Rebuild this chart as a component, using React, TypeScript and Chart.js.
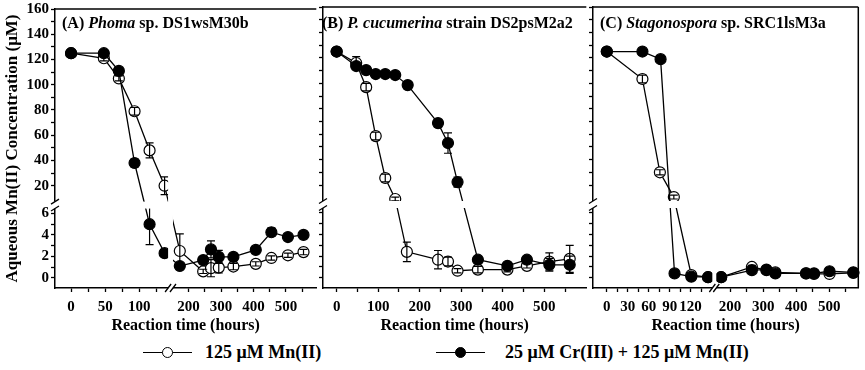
import React, { useEffect, useRef } from "react";
import { Chart, registerables } from "chart.js";

Chart.register(...registerables);

const FONT = '"Liberation Serif", "Times New Roman", serif';

// ---------- Panel A: Phoma sp. DS1wsM30b ----------
const timesA_Mn = [0, 48, 70, 93, 115, 137, 173, 245, 269, 293, 338, 407, 455, 506, 554];
const valuesA_Mn = [125, 121, 105, 79, 48, 20, 2.5, 0.6, 0.9, 0.95, 1.05, 1.3, 1.85, 2.1, 2.4];
const errorsA_Mn = [0, 2, 2, 3, 6, 7, 1.6, 0.2, 0.8, 0.5, 0.3, 0.2, 0.2, 0.2, 0.25];
const timesA_CrMn = [0, 48, 70, 93, 115, 137, 173, 245, 269, 293, 338, 407, 455, 506, 554];
const valuesA_CrMn = [125, 125, 111, 38, 5.0, 2.3, 1.1, 1.65, 2.65, 1.95, 1.95, 2.6, 4.25, 3.8, 4.0];
const errorsA_CrMn = [0, 0, 2, 3, 1.9, 0.2, 0.2, 0.3, 0.8, 0.6, 0.3, 0.2, 0.4, 0.2, 0.2];

// ---------- Panel B: P. cucumerina strain DS2psM2a2 ----------
const timesB_Mn = [0, 47, 71, 94, 117, 141, 169, 244, 268, 291, 340, 411, 458, 512, 561];
const valuesB_Mn = [125, 116, 97, 58.5, 25.5, 9, 2.4, 1.67, 1.5, 0.65, 0.75, 0.75, 1.1, 1.5, 1.75];
const errorsB_Mn = [0, 5, 3, 3, 3, 1.5, 0.9, 0.85, 0.4, 0.2, 0.3, 0.2, 0.2, 0.8, 1.25];
const timesB_CrMn = [0, 47, 71, 94, 117, 141, 171, 244, 268, 291, 340, 411, 458, 512, 561];
const valuesB_CrMn = [125, 113.6, 110.4, 107.3, 107.3, 106.5, 98.6, 68.7, 53, 22.3, 1.67, 1.1, 1.67, 1.2, 1.2];
const errorsB_CrMn = [0, 2, 0, 0, 0, 0, 2, 3, 8, 4, 0.2, 0.2, 0.2, 0.6, 0.8];

// ---------- Panel C: Stagonospora sp. SRC1lsM3a ----------
const timesC_Mn = [0, 51, 76, 96, 121, 145, 173, 266, 310, 337, 430, 454, 501, 573];
const valuesC_Mn = [125, 103.4, 30, 10.5, 0.25, 0.05, 0.05, 1.0, 0.7, 0.5, 0.4, 0.35, 0.35, 0.45];
const errorsC_Mn = [0, 3, 2, 1.5, 0, 0, 0, 0.15, 0.1, 0.1, 0.1, 0.1, 0.1, 0.1];
const timesC_CrMn = [0, 51, 77, 97, 121, 145, 173, 266, 310, 337, 430, 454, 501, 573];
const valuesC_CrMn = [125, 125, 119, 0.4, 0.1, 0.05, 0.05, 0.7, 0.75, 0.4, 0.4, 0.4, 0.6, 0.5];
const errorsC_CrMn = [0, 0, 0, 0, 0, 0, 0, 0, 0, 0, 0, 0, 0, 0];

// ---------- Axis ticks ----------
const yTicks = [0, 1, 2, 3, 4, 5, 6, 20, 30, 40, 50, 60, 70, 80, 90, 100, 110, 120, 130, 140, 150, 160];
const yTickLabels = ["0", "", "2", "", "4", "", "6", "20", "", "40", "", "60", "", "80", "", "100", "", "120", "", "140", "", "160"];

const xTicksA = [0, 25, 50, 75, 100, 125, 200, 250, 300, 350, 400, 450, 500, 550];
const xLabelsA = ["0", "", "50", "", "100", "", "200", "", "300", "", "400", "", "500", ""];
const xTicksB = [0, 50, 100, 150, 200, 250, 300, 350, 400, 450, 500, 550];
const xLabelsB = ["0", "", "100", "", "200", "", "300", "", "400", "", "500", ""];
const xTicksC = [0, 15, 30, 45, 60, 75, 90, 105, 120, 135, 200, 250, 300, 350, 400, 450, 500, 550];
const xLabelsC = ["0", "", "30", "", "60", "", "90", "", "120", "", "200", "", "300", "", "400", "", "500", ""];

const legendLabels = ["125 \u03bcM Mn(II)", "25 \u03bcM Cr(III) + 125 \u03bcM Mn(II)"];
const yTitle = "Aqueous Mn(II) Concentration (\u03bcM)";
const xTitle = "Reaction time (hours)";

// ---------- Broken-axis transforms (value -> virtual axis coordinate) ----------
const Y_MAX = 281;
const Y_BAND = [80, 87];
function yv(r: number) {
  return r < 7 ? (r + 0.95) * 10.8 : 103 + (r - 20) * 1.271;
}
const xfA = (t: number) => (t < 148 ? 16.5 + 0.7 * t : 137 + 0.333 * (t - 200));
const xfB = (t: number) => 14 + 0.426 * t;
const xfC = (t: number) => (t < 156 ? 14 + 0.708 * t : 139 + 0.335 * (t - 200));

type Series = { times: number[]; vals: number[]; errs: number[]; filled: boolean };
type PanelCfg = {
  left: number;
  width: number;
  yW: number;
  padR: number;
  showY: boolean;
  xf: (t: number) => number;
  xMax: number;
  xTicks: number[];
  xLabels: string[];
  xBand?: number[];
  rightBorder?: boolean;
  series: Series[];
};

const panels: PanelCfg[] = [
  {
    left: 0, width: 323, yW: 55, padR: 0, showY: true, xf: xfA, xMax: 268,
    xTicks: xTicksA, xLabels: xLabelsA, xBand: [116, 121],
    series: [
      { times: timesA_CrMn, vals: valuesA_CrMn, errs: errorsA_CrMn, filled: true },
      { times: timesA_Mn, vals: valuesA_Mn, errs: errorsA_Mn, filled: false },
    ],
  },
  {
    left: 311, width: 282, yW: 12, padR: 0, showY: false, xf: xfB, xMax: 270,
    xTicks: xTicksB, xLabels: xLabelsB,
    series: [
      { times: timesB_CrMn, vals: valuesB_CrMn, errs: errorsB_CrMn, filled: true },
      { times: timesB_Mn, vals: valuesB_Mn, errs: errorsB_Mn, filled: false },
    ],
  },
  {
    left: 581, width: 284, yW: 12, padR: 3, showY: false, xf: xfC, xMax: 269,
    xTicks: xTicksC, xLabels: xLabelsC, xBand: [121, 125], rightBorder: true,
    series: [
      { times: timesC_CrMn, vals: valuesC_CrMn, errs: errorsC_CrMn, filled: true },
      { times: timesC_Mn, vals: valuesC_Mn, errs: errorsC_Mn, filled: false },
    ],
  },
];

function makeDecor(p: PanelCfg) {
  return {
    id: "decor",
    afterDatasetsDraw(chart: any) {
      const { ctx, chartArea } = chart;
      const { left, right, top, bottom } = chartArea;
      const xs = chart.scales.x;
      const ys = chart.scales.y;
      ctx.save();
      ctx.strokeStyle = "#000";
      ctx.lineWidth = 1.2;
      p.series.forEach((s) => {
        s.times.forEach((t, i) => {
          const e = s.errs[i];
          if (!e) return;
          const px = xs.getPixelForValue(p.xf(t));
          const y1 = ys.getPixelForValue(yv(s.vals[i] + e));
          const y2 = ys.getPixelForValue(yv(Math.max(s.vals[i] - e, -0.9)));
          ctx.beginPath();
          ctx.moveTo(px, y1);
          ctx.lineTo(px, y2);
          ctx.moveTo(px - 4, y1);
          ctx.lineTo(px + 4, y1);
          ctx.moveTo(px - 4, y2);
          ctx.lineTo(px + 4, y2);
          ctx.stroke();
        });
      });
      // horizontal break band
      const yb1 = ys.getPixelForValue(Y_BAND[1]);
      const yb2 = ys.getPixelForValue(Y_BAND[0]);
      ctx.fillStyle = "#fff";
      ctx.fillRect(left - 2, yb1, right - left + 2, yb2 - yb1);
      ctx.lineWidth = 1.3;
      if (p.xBand) {
        const xb1 = xs.getPixelForValue(p.xBand[0]);
        const xb2 = xs.getPixelForValue(p.xBand[1]);
        ctx.fillRect(xb1, top, xb2 - xb1, bottom - top + 2);
        ctx.beginPath();
        [xb1, xb2].forEach((xx: number) => {
          ctx.moveTo(xx - 3, bottom + 4);
          ctx.lineTo(xx + 3, bottom - 4);
        });
        ctx.stroke();
      }
      ctx.beginPath();
      [yb1, yb2].forEach((yy: number) => {
        ctx.moveTo(left - 4, yy + 2.5);
        ctx.lineTo(left + 4, yy - 2.5);
      });
      ctx.stroke();
      // frame
      ctx.lineWidth = 1.5;
      ctx.beginPath();
      ctx.moveTo(left, top);
      ctx.lineTo(right, top);
      if (p.rightBorder) {
        ctx.moveTo(right, top);
        ctx.lineTo(right, bottom);
      }
      ctx.stroke();
      ctx.restore();
    },
  };
}

function Panel({ p }: { p: PanelCfg }) {
  const ref = useRef<HTMLCanvasElement>(null);
  useEffect(() => {
    const tickFont = { family: FONT, size: 15, weight: "bold" as const, lineHeight: 0.93 };
    const grid = {
      drawOnChartArea: false,
      drawTicks: true,
      tickLength: 4,
      tickWidth: 1.3,
      tickColor: "#000",
      color: "#000",
    };
    const chart = new Chart(ref.current as HTMLCanvasElement, {
      type: "scatter",
      data: {
        datasets: p.series.map((s) => ({
          data: s.times.map((t, i) => ({ x: p.xf(t), y: yv(s.vals[i]) })),
          showLine: true,
          borderColor: "#000",
          borderWidth: 1.3,
          pointRadius: 5.5,
          pointHoverRadius: 5.5,
          pointBackgroundColor: s.filled ? "#000" : "#fff",
          pointBorderColor: "#000",
          pointBorderWidth: 1.2,
          clip: false as any,
        })),
      },
      options: {
        animation: false,
        responsive: false,
        maintainAspectRatio: false,
        layout: { padding: { top: 7, right: p.padR, left: 0, bottom: 0 } },
        plugins: { legend: { display: false }, tooltip: { enabled: false } },
        scales: {
          x: {
            type: "linear",
            min: 0,
            max: p.xMax,
            afterBuildTicks: (s: any) => {
              s.ticks = p.xTicks.map((t) => ({ value: p.xf(t) }));
            },
            afterFit: (s: any) => {
              s.height = 52;
            },
            ticks: {
              autoSkip: false,
              maxRotation: 0,
              padding: 8,
              font: tickFont,
              color: "#000",
              callback: (_v: any, i: number) => p.xLabels[i],
            },
            grid,
            border: { display: true, color: "#000", width: 1.5 },
            title: {
              display: true,
              text: xTitle,
              color: "#000",
              font: { family: FONT, size: 16, weight: "bold" },
              padding: { top: 0, bottom: 5 },
            },
          },
          y: {
            type: "linear",
            min: 0,
            max: Y_MAX,
            afterBuildTicks: (s: any) => {
              s.ticks = yTicks.map((r) => ({ value: yv(r) }));
            },
            afterFit: (s: any) => {
              s.width = p.yW;
            },
            ticks: {
              display: p.showY,
              autoSkip: false,
              padding: 2,
              font: tickFont,
              color: "#000",
              callback: (_v: any, i: number) => yTickLabels[i],
            },
            grid,
            border: { display: true, color: "#000", width: 1.5 },
            title: {
              display: p.showY,
              text: yTitle,
              color: "#000",
              font: { family: FONT, size: 17, weight: "bold" },
              padding: { top: 2, bottom: 0 },
            },
          },
        },
      } as any,
      plugins: [makeDecor(p)],
    });
    return () => chart.destroy();
  }, []);
  return (
    <canvas
      ref={ref}
      width={p.width}
      height={340}
      style={{ position: "absolute", left: p.left, top: 0, width: p.width, height: 340 }}
    />
  );
}

const titleStyle = (left: number): React.CSSProperties => ({
  position: "absolute",
  left,
  top: 13,
  fontFamily: FONT,
  fontSize: 16,
  fontWeight: "bold",
  lineHeight: "20px",
  whiteSpace: "nowrap",
  color: "#000",
});

function LegendItem({ x, textX, filled, label }: { x: number; textX: number; filled: boolean; label: string }) {
  return (
    <>
      <div style={{ position: "absolute", left: x - 24, top: 351.5, width: 49, height: 1.5, background: "#000" }} />
      <div
        style={{
          position: "absolute",
          left: x - 5.5,
          top: 346.5,
          width: 11,
          height: 11,
          borderRadius: "50%",
          border: "1.2px solid #000",
          background: filled ? "#000" : "#fff",
          boxSizing: "border-box",
        }}
      />
      <div
        style={{
          position: "absolute",
          left: textX,
          top: 341,
          fontFamily: FONT,
          fontSize: 18,
          fontWeight: "bold",
          lineHeight: "22px",
          whiteSpace: "nowrap",
          color: "#000",
        }}
      >
        {label}
      </div>
    </>
  );
}

export default function App() {
  return (
    <div
      style={{
        position: "absolute",
        left: 0,
        top: 0,
        width: 865,
        height: 370,
        background: "#fff",
        overflow: "hidden",
      }}
    >
      {panels.map((p, i) => (
        <Panel key={i} p={p} />
      ))}
      <div style={titleStyle(62)}>
        (A) <i>Phoma</i> sp. DS1wsM30b
      </div>
      <div style={titleStyle(322)}>
        (B) <i>P. cucumerina</i> strain DS2psM2a2
      </div>
      <div style={titleStyle(600)}>
        (C) <i>Stagonospora</i> sp. SRC1lsM3a
      </div>
      <LegendItem x={167} textX={205} filled={false} label={legendLabels[0]} />
      <LegendItem x={460} textX={505} filled={true} label={legendLabels[1]} />
    </div>
  );
}
